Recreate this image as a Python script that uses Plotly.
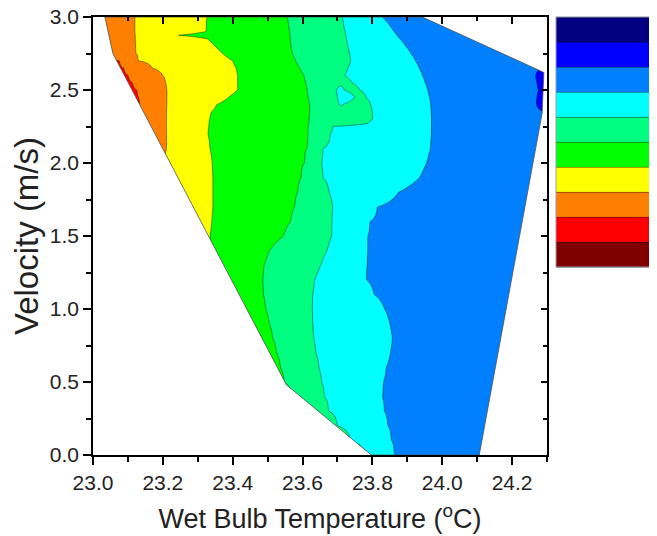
import numpy as np
import plotly.graph_objects as go

# ---------------- data ----------------
X_RANGE = [23.0, 24.3]          # wet bulb temperature (°C)
Y_RANGE = [0.0, 3.0]            # velocity (m/s)

# 10 contour bands (lowest -> highest)
BAND_COLORS = ['#800000', '#FF0000', '#FF8000', '#FFFF00', '#00FF00',
               '#00FF80', '#00FFFF', '#0080FF', '#0000FF', '#000080']

# rows of velocity at which the contour crossings were read
V_ROWS = [3.0, 2.9, 2.875, 2.85, 2.8, 2.75, 2.7, 2.65, 2.6, 2.55, 2.5, 2.45, 2.4,
          2.35, 2.3, 2.27, 2.25, 2.2, 2.1, 2.0, 1.9, 1.8, 1.7, 1.6, 1.5, 1.4, 1.3,
          1.2, 1.1, 1.0, 0.9, 0.8, 0.7, 0.6, 0.5, 0.4, 0.3, 0.2, 0.1, 0.0]

# level value at the left / right edges of each row
EDGE_L = [2.3, 2.3, 2.3, 2.3, 2.3, 2.2, 1.6, 1.6, 1.6, 1.6, 1.6, 1.6, 1.8,
          2.2, 2.3, 2.3, 2.3, 2.4, 2.5, 2.5, 2.6, 2.6, 2.6, 2.7, 2.7, 2.8, 2.8,
          3.2, 3.2, 3.3, 3.4, 3.4, 3.5, 3.5, 3.6, 3.7, 3.8, 3.9, 4.2, 4.3]
EDGE_R = [8.3] * 8 + [8.4] * 5 + [8.3] * 27

N = None
# temperature where each contour level is crossed, row by row
T_Z2 = [N, N, N, N, N, N, 23.075, 23.088, 23.100, 23.113, 23.125, 23.131, 23.133,
        N, N, N, N, N, N, N, N, N, N, N, N, N, N,
        N, N, N, N, N, N, N, N, N, N, N, N, N]
T_Z3 = [23.120, 23.120, 23.121, 23.121, 23.122, 23.123, 23.130, 23.170, 23.200, 23.208, 23.211, 23.211, 23.211,
        23.211, 23.211, 23.211, 23.211, 23.211, 23.211, 23.205, 23.215, 23.220, 23.220, 23.220, 23.220, 23.220, 23.220,
        N, N, N, N, N, N, N, N, N, N, N, N, N]
T_Z4 = [23.326, 23.323, 23.245, 23.328, 23.350, 23.372, 23.400, 23.410, 23.414, 23.414, 23.414, 23.388, 23.354,
        23.338, 23.333, 23.332, 23.331, 23.329, 23.335, 23.341, 23.343, 23.343, 23.343, 23.340, 23.335, 23.340, 23.350,
        23.370, 23.380, 23.400, 23.420, 23.440, 23.460, 23.480, 23.500, 23.520, 23.560, 23.600, N, N]
T_Z5 = [23.557, 23.563, 23.564, 23.565, 23.567, 23.571, 23.580, 23.592, 23.604, 23.609, 23.614, 23.617, 23.620,
        23.620, 23.619, 23.618, 23.617, 23.616, 23.613, 23.605, 23.596, 23.586, 23.577, 23.566, 23.545, 23.505, 23.490,
        23.486, 23.488, 23.495, 23.505, 23.515, 23.526, 23.537, 23.548, 23.575, 23.620, 23.660, 23.700, 23.740]
T_Z6 = [23.714, 23.722, 23.724, 23.726, 23.730, 23.734, 23.738, 23.730, 23.720, 23.742, 23.697, 23.700, 23.705,
        23.800, 23.800, 23.785, 23.686, 23.680, 23.658, 23.654, 23.658, 23.676, 23.686, 23.684, 23.683, 23.670, 23.652,
        23.635, 23.629, 23.628, 23.629, 23.632, 23.638, 23.647, 23.655, 23.663, 23.675, 23.700, 23.738, 23.785]
T_Z7 = [23.829, 23.862, 23.870, 23.878, 23.895, 23.910, 23.923, 23.934, 23.943, 23.951, 23.958, 23.963, 23.967,
        23.968, 23.969, 23.969, 23.969, 23.969, 23.966, 23.955, 23.935, 23.875, 23.815, 23.793, 23.787, 23.786, 23.785,
        23.783, 23.805, 23.835, 23.850, 23.857, 23.852, 23.840, 23.832, 23.829, 23.835, 23.845, 23.855, 23.863]
# azure/blue crossing: inside the region only for the small patch at 2.4-2.6 m/s
T_Z8 = [24.000, 24.080, 24.100, 24.120, 24.160, 24.200, 24.240, 24.285, 24.268, 24.272, 24.275, 24.272, 24.270,
        24.298, 24.296, 24.295, 24.294, 24.292, 24.290, 24.285, 24.280, 24.275, 24.270, 24.260, 24.250, 24.245, 24.240,
        24.230, 24.220, 24.210, 24.205, 24.200, 24.190, 24.180, 24.175, 24.170, 24.160, 24.150, 24.145, 24.140]

# extra crossings of the small cyan notch / green lobe near 23.7 °C, 2.4-2.5 m/s
WEDGE_V = [2.5, 2.45, 2.4]
WEDGE_T = [[23.708, 23.720, 23.742, 23.764],
           [23.725, 23.750, 23.766, 23.782],
           [23.710, 23.716, 23.755, 23.795]]
WEDGE_Z = [[6.3, 6.0, 5.8, 6.0],
           [6.4, 6.0, 5.8, 6.0],
           [6.1, 6.0, 5.6, 6.0]]

# outline of the measured region (outside is blank)
HULL_T = [23.034, 23.057, 23.554, 23.797, 24.106, 24.286, 24.291, 23.943]
HULL_V = [3.0, 2.75, 0.48, 0.0, 0.0, 2.34, 2.62, 3.0]

# ---------------- build the grid table for the contour ----------------
T_GRID = np.linspace(X_RANGE[0], X_RANGE[1], 521)
crossings = {2: T_Z2, 3: T_Z3, 4: T_Z4, 5: T_Z5, 6: T_Z6, 7: T_Z7, 8: T_Z8}
Z = []
for i, v in enumerate(V_ROWS):
    knots = [(X_RANGE[0], EDGE_L[i]), (X_RANGE[1], EDGE_R[i])]
    for lev, arr in crossings.items():
        if arr[i] is not None:
            knots.append((arr[i], float(lev)))
    if v in WEDGE_V:
        j = WEDGE_V.index(v)
        knots += list(zip(WEDGE_T[j], WEDGE_Z[j]))
    knots.sort()
    kx = [k[0] for k in knots]
    kz = [k[1] for k in knots]
    Z.append(np.interp(T_GRID, kx, kz))
Z = np.array(Z)[::-1]
V_ASC = V_ROWS[::-1]

nb = len(BAND_COLORS)
colorscale = []
for k, c in enumerate(BAND_COLORS):
    colorscale.append([k / nb, c])
    colorscale.append([(k + 1) / nb, c])

# ---------------- figure ----------------
OFF = 8                                   # page offset of the figure in the browser
W, H = 657, 536
PLOT_L, PLOT_R, PLOT_T, PLOT_B = 93 - OFF, 547 - OFF, 17 - OFF, 455 - OFF
plot_w = PLOT_R - PLOT_L
plot_h = PLOT_B - PLOT_T

fig = go.Figure()
fig.add_trace(go.Contour(
    x=T_GRID, y=V_ASC, z=Z,
    colorscale=colorscale,
    zmin=0, zmax=nb,
    autocontour=False,
    contours=dict(start=0, end=nb, size=1, coloring='fill', showlines=True),
    line=dict(width=0.7, color='rgba(0,0,0,0.6)', smoothing=1.0),
    colorbar=dict(x=(556 - OFF - PLOT_L) / plot_w, xanchor='left', xref='paper',
                  y=1.0, yanchor='top', len=250, lenmode='pixels',
                  thickness=140, thicknessmode='pixels', xpad=0, ypad=0,
                  outlinewidth=1, outlinecolor='#9a9ab0',
                  showticklabels=False, ticks=''),
    hoverinfo='skip',
))

# blank out everything outside the measured region
px = (X_RANGE[1] - X_RANGE[0]) * 0.1
py = (Y_RANGE[1] - Y_RANGE[0]) * 0.1
xl, xr = X_RANGE[0] - px, X_RANGE[1] + px
yb, yt = Y_RANGE[0] - py, Y_RANGE[1] + py
left_x = [xl, HULL_T[0], HULL_T[0], HULL_T[1], HULL_T[2], HULL_T[3], HULL_T[3], xl]
left_y = [yt, yt, HULL_V[0], HULL_V[1], HULL_V[2], HULL_V[3], yb, yb]
right_x = [HULL_T[7], HULL_T[7], xr, xr, HULL_T[4], HULL_T[4], HULL_T[5], HULL_T[6], HULL_T[7]]
right_y = [HULL_V[7], yt, yt, yb, yb, HULL_V[4], HULL_V[5], HULL_V[6], HULL_V[7]]
for mx, my in ((left_x, left_y), (right_x, right_y)):
    fig.add_trace(go.Scatter(x=mx, y=my, mode='lines', fill='toself',
                             fillcolor='white', line=dict(width=0, color='white'),
                             hoverinfo='skip', showlegend=False))

fig.add_trace(go.Scatter(x=HULL_T + [HULL_T[0]], y=HULL_V + [HULL_V[0]],
                         mode='lines', line=dict(width=0.8, color='#505050'),
                         xaxis='x2', yaxis='y2', hoverinfo='skip', showlegend=False))

font_family = 'Liberation Sans, Arial, sans-serif'
axis_common = dict(showline=True, linecolor='black', linewidth=1.5, showgrid=False,
                   zeroline=False, tickcolor='black', tickwidth=1.5, mirror=False)

fig.update_layout(
    width=W, height=H,
    margin=dict(l=PLOT_L, r=W - PLOT_R, t=PLOT_T, b=H - PLOT_B, autoexpand=False, pad=0),
    paper_bgcolor='white', plot_bgcolor='white',
    font=dict(family=font_family, color='#222222'),
    showlegend=False,
    xaxis=dict(range=X_RANGE, tick0=23.0, dtick=0.2, tickformat='.1f',
               ticks='outside', ticklen=8, ticklabeloverflow='allow',
               minor=dict(dtick=0.1, ticks='outside', ticklen=5, tickwidth=1.5, tickcolor='black'),
               tickfont=dict(size=21, color='#222222'),
               title=dict(text='Wet Bulb Temperature (<sup>o</sup>C)',
                          font=dict(size=27, color='#222222'), standoff=16),
               **axis_common),
    yaxis=dict(range=Y_RANGE, tick0=0, dtick=0.5, tickformat='.1f',
               ticks='outside', ticklen=8, ticklabeloverflow='allow',
               minor=dict(dtick=0.25, ticks='outside', ticklen=5, tickwidth=1.5, tickcolor='black'),
               tickfont=dict(size=21, color='#222222'),
               title=dict(text='Velocity (m/s)', font=dict(size=33, color='#222222'), standoff=1),
               **axis_common),
    xaxis2=dict(range=X_RANGE, overlaying='x', side='top', anchor='y2',
                tick0=23.0, dtick=0.2, ticks='inside', ticklen=7, showticklabels=False,
                minor=dict(dtick=0.1, ticks='inside', ticklen=4, tickwidth=1.5, tickcolor='black'),
                **axis_common),
    yaxis2=dict(range=Y_RANGE, overlaying='y', side='right', anchor='x2',
                tick0=0, dtick=0.5, ticks='inside', ticklen=6, showticklabels=False,
                minor=dict(dtick=0.25, ticks='inside', ticklen=4, tickwidth=1.5, tickcolor='black'),
                **axis_common),
)

fig.write_html('out.html')
